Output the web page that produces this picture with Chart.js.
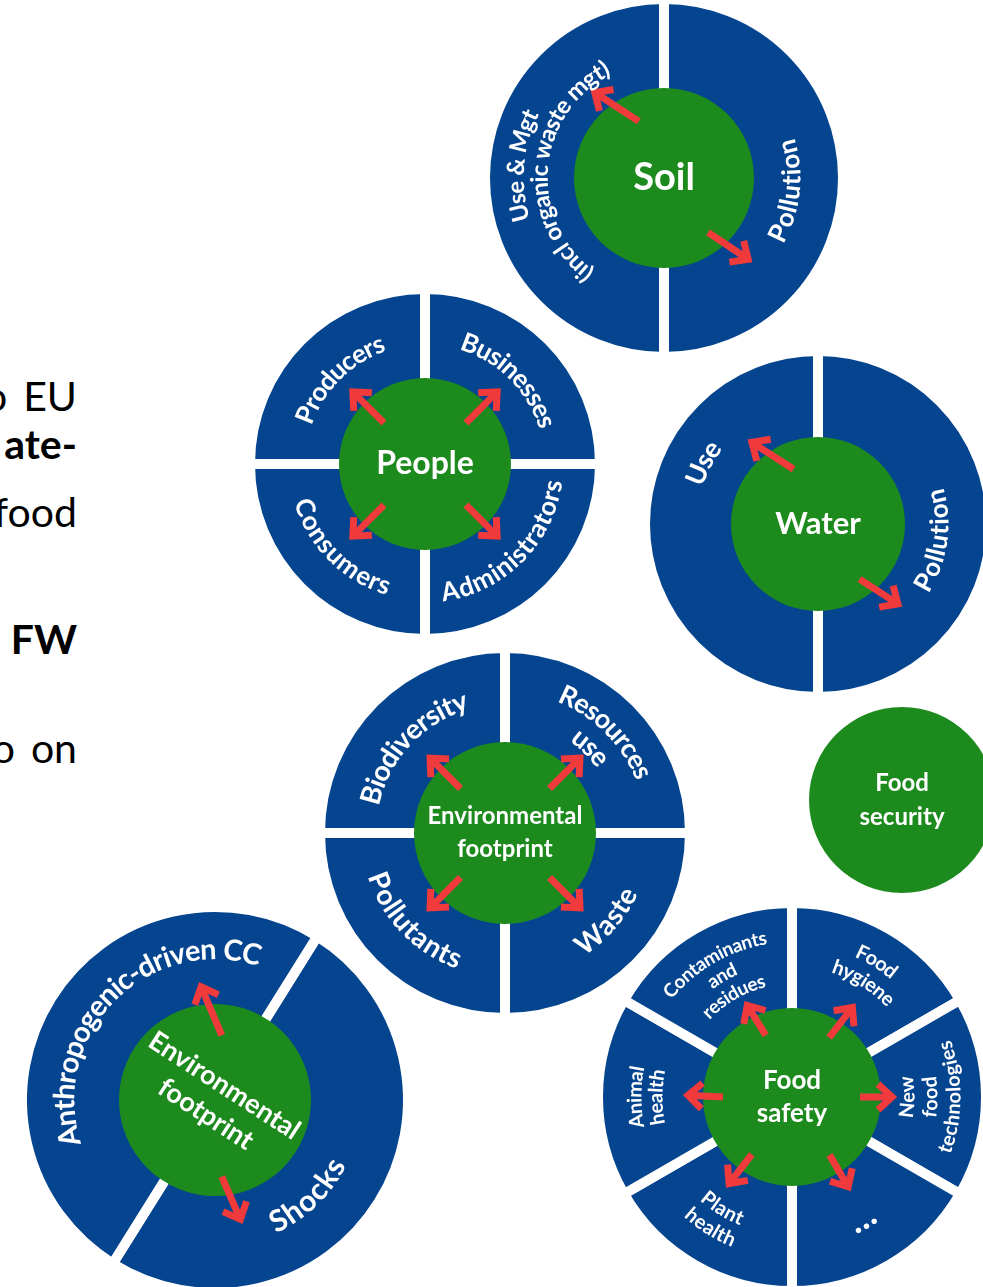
<!DOCTYPE html>
<html>
<head>
<meta charset="utf-8">
<script src="https://cdn.jsdelivr.net/npm/chart.js@4.4.1/dist/chart.umd.min.js"></script>
<style>
html, body { margin: 0; padding: 0; background: #fff; }
body { width: 983px; height: 1287px; position: relative; overflow: hidden; }
.slide { position: absolute; right: 906px; white-space: nowrap; font-family: Lato, sans-serif; font-size: 41px; line-height: 42px; color: #000; }
.slide b { font-weight: 700; }
</style>
</head>
<body>
<div class="slide" style="top:375px">o<span style="padding-left:16px">EU</span></div>
<div class="slide" style="top:423px"><b>ate-</b></div>
<div class="slide" style="top:491px">food</div>
<div class="slide" style="top:618px"><b>FW</b></div>
<div class="slide" style="top:727px">o<span style="padding-left:16px">on</span></div>
<script>
// Temas de cada círculo (orden: desde arriba, en sentido horario)
const soilTopics = ['Pollution', 'Use & Mgt\n(incl organic waste mgt)'];
const soilShares = [1, 1];
const peopleTopics = ['Businesses', 'Administrators', 'Consumers', 'Producers'];
const peopleShares = [1, 1, 1, 1];
const waterTopics = ['Pollution', 'Use'];
const waterShares = [1, 1];
const footprintTopics = ['Resources\nuse', 'Waste', 'Pollutants', 'Biodiversity'];
const footprintShares = [1, 1, 1, 1];
const safetyTopics = ['Food\nhygiene', 'New\nfood\ntechnologies', '...', 'Plant\nhealth', 'Animal\nhealth', 'Contaminants\nand\nresidues'];
const safetyShares = [1, 1, 1, 1, 1, 1];
const climateTopics = ['Shocks', 'Anthropogenic-driven CC'];
const climateShares = [1, 1];
const securityTopics = ['Food security'];
const securityShares = [1];
const hubLabels = ['Soil', 'People', 'Water', 'Environmental\nfootprint', 'Food\nsafety', 'Environmental\nfootprint', 'Food\nsecurity'];

const BLUE = '#05448f';
const GREEN = '#1d8a1e';
const RED = '#f03a3c';

// grados desde arriba (horario) -> radianes del canvas
function toRad(d) { return d * Math.PI / 180 - Math.PI / 2; }

// texto curvo: 'out' = parte alta hacia fuera, 'in' = parte alta hacia el centro
function arcText(ctx, text, cx, cy, r, mid, mode) {
    const chars = [...text];
    let widths = chars.map(c => ctx.measureText(c).width);
    const sum = widths.reduce((a, b) => a + b, 0);
    const total = ctx.measureText(text).width;
    widths = widths.map(w => w * total / sum);
    const dir = mode === 'out' ? 1 : -1;
    let a = mid - dir * total / r / 2;
    chars.forEach((c, i) => {
        const ac = a + dir * widths[i] / 2 / r;
        ctx.save();
        ctx.translate(cx + r * Math.cos(ac), cy + r * Math.sin(ac));
        ctx.rotate(ac + dir * Math.PI / 2);
        ctx.fillText(c, 0, 0);
        ctx.restore();
        a += dir * widths[i] / r;
    });
}

function drawArrow(ctx, cx, cy, spec) {
    const [ta, tr, ha, hr] = spec;
    const x1 = cx + tr * Math.cos(toRad(ta)), y1 = cy + tr * Math.sin(toRad(ta));
    const x2 = cx + hr * Math.cos(toRad(ha)), y2 = cy + hr * Math.sin(toRad(ha));
    const ang = Math.atan2(y2 - y1, x2 - x1);
    ctx.strokeStyle = RED;
    ctx.lineWidth = 7;
    ctx.lineCap = 'butt';
    ctx.lineJoin = 'miter';
    ctx.beginPath();
    ctx.moveTo(x1, y1);
    ctx.lineTo(x2, y2);
    ctx.stroke();
    ctx.beginPath();
    ctx.moveTo(x2 + 19 * Math.cos(ang + 2.4), y2 + 19 * Math.sin(ang + 2.4));
    ctx.lineTo(x2, y2);
    ctx.lineTo(x2 + 19 * Math.cos(ang - 2.4), y2 + 19 * Math.sin(ang - 2.4));
    ctx.stroke();
}

// Plugin: círculo verde central, flechas y textos
const ringDecor = {
    id: 'ringDecor',
    afterDatasetsDraw(chart, args, opts) {
        const ctx = chart.ctx;
        const arcs = chart.getDatasetMeta(0).data;
        const cx = arcs[0].x, cy = arcs[0].y;
        ctx.save();
        if (opts.hub) {
            ctx.fillStyle = GREEN;
            ctx.beginPath();
            ctx.arc(cx, cy, opts.hub, 0, Math.PI * 2);
            ctx.fill();
        }
        (opts.arrows || []).forEach(a => drawArrow(ctx, cx, cy, a));
        ctx.fillStyle = '#fff';
        ctx.textAlign = 'center';
        ctx.textBaseline = 'middle';
        (opts.text || []).forEach((st, i) => {
            const arc = arcs[i];
            const mid = (arc.startAngle + arc.endAngle) / 2 + (st.off || 0) * Math.PI / 180;
            ctx.font = '700 ' + st.size + 'px Lato';
            chart.data.labels[i].split('\n').forEach((line, k) => arcText(ctx, line, cx, cy, st.r[k], mid, st.mode));
        });
        ctx.font = opts.hubFont;
        ctx.translate(cx, cy);
        ctx.rotate((opts.tilt || 0) * Math.PI / 180);
        const lines = opts.center.split('\n');
        lines.forEach((l, k) => ctx.fillText(l, 0, (k - (lines.length - 1) / 2) * (opts.lead || 0)));
        ctx.restore();
    }
};

function makeRing(topics, shares, color, cfg) {
    const size = 2 * cfg.R + 40;
    const cv = document.createElement('canvas');
    cv.width = size;
    cv.height = size;
    cv.style.cssText = 'position:absolute;left:' + (cfg.x - size / 2) + 'px;top:' + (cfg.y - size / 2) + 'px;width:' + size + 'px;height:' + size + 'px';
    document.body.appendChild(cv);
    const gap = cfg.gap === undefined ? 10 : cfg.gap;
    return new Chart(cv, {
        type: 'pie',
        data: {
            labels: topics,
            datasets: [{ data: shares, backgroundColor: color, borderColor: '#fff', borderWidth: gap, borderJoinStyle: 'miter' }]
        },
        options: {
            responsive: false,
            animation: false,
            events: [],
            rotation: cfg.rotation || 0,
            radius: cfg.R + gap / 2,
            layout: { padding: 0 },
            plugins: {
                legend: { display: false },
                tooltip: { enabled: false },
                ringDecor: cfg.decor
            }
        },
        plugins: [ringDecor]
    });
}

makeRing(soilTopics, soilShares, BLUE, {
    x: 664, y: 178, R: 174,
    decor: {
        hub: 90, center: hubLabels[0], hubFont: '700 38px Lato',
        text: [{ mode: 'in', r: [128], size: 26, off: 6 }, { mode: 'out', r: [148, 124], size: 24, off: 5 }],
        arrows: [[336, 62, 321, 110], [141, 70, 134, 117]]
    }
});

makeRing(peopleTopics, peopleShares, BLUE, {
    x: 425, y: 464, R: 170,
    decor: {
        hub: 86, center: hubLabels[1], hubFont: '700 32px Lato',
        text: [
            { mode: 'out', r: [128], size: 26 },
            { mode: 'in', r: [130], size: 26 },
            { mode: 'in', r: [128], size: 26 },
            { mode: 'out', r: [128], size: 26 }
        ],
        arrows: [[45, 58, 45, 102], [135, 58, 135, 102], [225, 58, 225, 102], [315, 58, 315, 102]]
    }
});

makeRing(waterTopics, waterShares, BLUE, {
    x: 818, y: 524, R: 168,
    decor: {
        hub: 87, center: hubLabels[2], hubFont: '700 31px Lato',
        text: [{ mode: 'in', r: [122], size: 26, off: 8 }, { mode: 'out', r: [130], size: 27, off: 28 }],
        arrows: [[336, 60, 321, 105], [143, 69, 135, 113]]
    }
});

makeRing(footprintTopics, footprintShares, BLUE, {
    x: 505, y: 833, R: 180,
    decor: {
        hub: 91, center: hubLabels[3], hubFont: '700 24px Lato', lead: 33,
        text: [
            { mode: 'out', r: [150, 121], size: 27 },
            { mode: 'in', r: [137], size: 28, off: -4 },
            { mode: 'in', r: [135], size: 28, off: 1 },
            { mode: 'out', r: [138], size: 28, off: -2 }
        ],
        arrows: [[45, 63, 45, 106], [135, 63, 135, 106], [225, 63, 225, 106], [315, 63, 315, 106]]
    }
});

makeRing(safetyTopics, safetyShares, BLUE, {
    x: 792, y: 1097, R: 189,
    decor: {
        hub: 89, center: hubLabels[4], hubFont: '700 26px Lato', lead: 33,
        text: [
            { mode: 'out', r: [160, 137], size: 20, off: 2 },
            { mode: 'in', r: [116, 139, 162], size: 20 },
            { mode: 'in', r: [140], size: 36 },
            { mode: 'in', r: [132, 155], size: 20, off: 2 },
            { mode: 'out', r: [157, 136], size: 20 },
            { mode: 'out', r: [161, 140, 119], size: 19 }
        ],
        arrows: [[32, 70, 34, 108], [90, 68, 90, 100], [147, 69, 148, 106], [215, 70, 216, 107], [270, 69, 271, 104], [337, 67, 334, 102]]
    }
});

makeRing(climateTopics, climateShares, BLUE, {
    x: 215, y: 1100, R: 188, rotation: 32,
    decor: {
        hub: 96, center: hubLabels[5], hubFont: '700 27px Lato', lead: 34, tilt: 33,
        text: [{ mode: 'in', r: [137], size: 30, off: 14 }, { mode: 'out', r: [150], size: 29, off: 13 }],
        arrows: [[6, 65, 353, 114], [175, 77, 168, 122]]
    }
});

makeRing(securityTopics, securityShares, GREEN, {
    x: 902, y: 800, R: 93, gap: 0,
    decor: { center: hubLabels[6], hubFont: '700 24px Lato', lead: 34 }
});
</script>
</body>
</html>
